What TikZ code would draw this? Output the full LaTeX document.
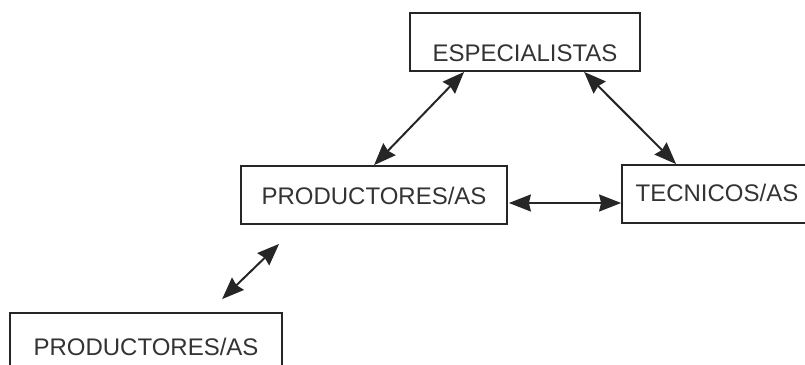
\documentclass[tikz,border=0pt]{standalone}
\usepackage{fontspec}
\setmainfont{Liberation Sans}
\usepackage{tikz}
\usetikzlibrary{arrows.meta,calc}

\begin{document}
\begin{tikzpicture}[
x=1pt,y=1pt,
caja/.style 2 args={
  draw=black!85,
  line width=1.8pt,
  inner sep=0pt,
  text=black!80,
  text height=#1,
  text depth=#2,
  align=center,
  font=\fontsize{24}{24}\selectfont
  },
ar/.style={
  {Stealth[length=22pt,width=17pt,inset=2pt]}-{Stealth[length=22pt,width=17pt,inset=2pt]},
  draw=black!85,
  line width=2pt
  }
]

\useasboundingbox (0,0) rectangle (805,364);

%The boxes
\node[caja={49pt}{9pt},minimum width=230pt] (esp) at (525,322)
  {ESPECIALISTAS};
\node[caja={39pt}{19pt},minimum width=266pt] (prod) at (374,169)
  {PRODUCTORES/AS};
\node[caja={37pt}{21pt},minimum width=190pt] (tec) at (717,170)
  {TECNICOS/AS};
\node[caja={42pt}{16pt},minimum width=272pt] (prodbot) at (146,22)
  {PRODUCTORES/AS};

%Aux
\coordinate (aux1) at ( $ (esp.south west)+(55,0) $ );
\coordinate (aux2) at ( $ (prod.north west)+(134,0) $ );
\coordinate (aux3) at ( $ (esp.south west)+(175,0) $ );
\coordinate (aux4) at ( $ (tec.north west)+(55,0) $ );
\coordinate (aux5) at ( $ (prod.east)+(1,-8) $ );
\coordinate (aux6) at ( $ (tec.west)+(0,-9) $ );
\coordinate (aux7) at ( $ (prod.south west)+(39,-19) $ );
\coordinate (aux8) at ( $ (prodbot.north west)+(213,13) $ );

\draw[ar] (aux1) -- (aux2);
\draw[ar] (aux3) -- (aux4);
\draw[ar] (aux5) -- (aux6);
\draw[ar] (aux7) -- (aux8);

\end{tikzpicture}
\end{document}
